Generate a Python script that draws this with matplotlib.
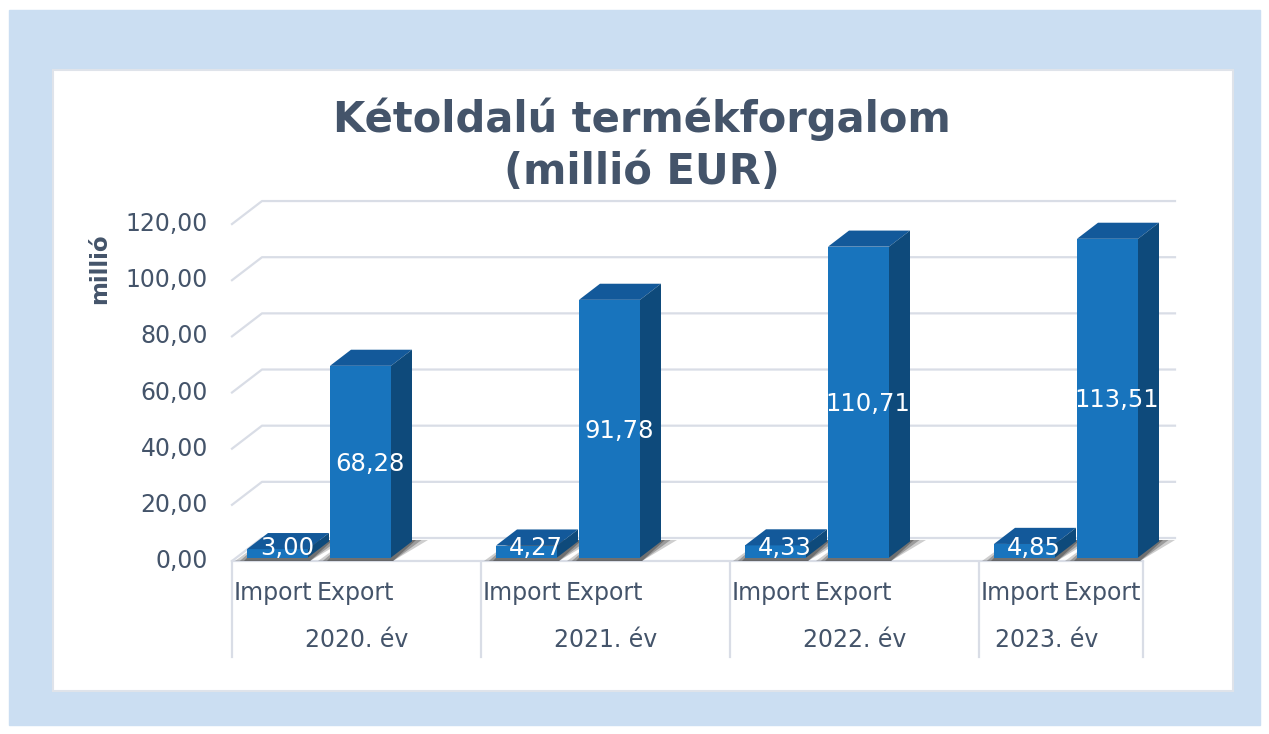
import matplotlib.pyplot as plt
from matplotlib.patches import Rectangle, Polygon

# data
years = ['2020. év', '2021. év', '2022. év', '2023. év']
series = ['Import', 'Export']
import_vals = [3.00, 4.27, 4.33, 4.85]
export_vals = [68.28, 91.78, 110.71, 113.51]
yticks = [0, 20, 40, 60, 80, 100, 120]

TXT = '#44546a'
GRID = '#d9dde6'
FRONT, TOP, SIDE = '#1874bd', '#13599a', '#0e4a7b'

W, H = 1269, 734
fig = plt.figure(figsize=(W / 100, H / 100), dpi=100)
ax = fig.add_axes([0, 0, 1, 1])

# layout (pixels): x axis in px, y axis in millions
PX = 2.808          # px per million
Y0 = 561            # pixel row of 0 on the front plane
X0 = 232            # left edge of the front plane
X_END = 1143        # right edge of the front plane
GW = 249            # width of one year group
DX, DY = 30, 23 / PX   # depth of the floor / back wall
ax.set_xlim(0, W)
ax.set_ylim((Y0 - H) / PX, Y0 / PX)
ax.axis('off')


def vy(py):
    return (Y0 - py) / PX


# backgrounds
ax.add_patch(Rectangle((9, vy(725)), 1251, 715 / PX, color='#cbdef2', zorder=0))
ax.add_patch(Rectangle((53, vy(691)), 1180, 621 / PX, facecolor='white',
                       edgecolor='#dfe3ea', lw=1.5, zorder=0))

# back wall gridlines
for v in yticks:
    ax.plot([X0, X0 + DX, X_END + DX + 2], [v, v + DY, v + DY], color=GRID, lw=1.6, zorder=1)
    ax.text(208, v, f'{v:.2f}'.replace('.', ','), ha='right', va='center',
            fontsize=17, color=TXT)
ax.plot([X0, X_END], [0, 0], color=GRID, lw=1.6, zorder=1)

# category separators
seps = [X0 + i * GW for i in range(len(years))] + [X_END]
for sx in seps:
    ax.plot([sx, sx], [vy(562), vy(657)], color=GRID, lw=1.6, zorder=1)

# bars
BAR_W = 61
OFFS = [15, 98]
vb = 0.15 * DY
BDX, BDY = 0.7 * DX, 0.7 * DY

for i, year in enumerate(years):
    g0 = X0 + i * GW
    for j, vals in enumerate([import_vals, export_vals]):
        h = vals[i]
        xl = g0 + OFFS[j]
        xr = xl + BAR_W
        # soft floor shadow, a few layers
        for grow, a in [(1.0, 0.25), (0.6, 0.35), (0.25, 0.45)]:
            ax.add_patch(Polygon([(xl - 12 * grow, vy(561)), (xr + 2, vy(561)),
                                  (xr + BDX + 16 * grow, vy(540)), (xl + BDX - 4, vy(540))],
                                 closed=True, facecolor='#3c3c3c', edgecolor='none',
                                 alpha=a, zorder=2))
        ax.add_patch(Polygon([(xl, vb), (xr, vb), (xr, vb + h), (xl, vb + h)],
                             closed=True, facecolor=FRONT, edgecolor='none', zorder=3))
        ax.add_patch(Polygon([(xl, vb + h), (xr, vb + h), (xr + BDX, vb + h + BDY),
                              (xl + BDX, vb + h + BDY)],
                             closed=True, facecolor=TOP, edgecolor='none', zorder=3))
        ax.add_patch(Polygon([(xr, vb), (xr + BDX, vb + BDY), (xr + BDX, vb + h + BDY),
                              (xr, vb + h)],
                             closed=True, facecolor=SIDE, edgecolor='none', zorder=3))
        ly = vb + max(h / 2 - 2 / PX, 10 / PX)
        ax.text((xl + xr + BDX) / 2 - 1, ly, f'{h:.2f}'.replace('.', ','),
                ha='center', va='center', fontsize=17.5, color='white', zorder=4)
        ax.text(xl + BAR_W / 2 - 5, vy(593), series[j], ha='center', va='center',
                fontsize=17, color=TXT)
    yc = min(g0 + GW / 2, X_END - 96)
    ax.text(yc, vy(640), year, ha='center', va='center', fontsize=17, color=TXT)

ax.text(642, vy(145), 'Kétoldalú termékforgalom\n(millió EUR)', ha='center',
        va='center', fontsize=30, fontweight='bold', color=TXT, linespacing=1.3)
ax.text(100, vy(269), 'millió', rotation=90, ha='center', va='center',
        fontsize=16.5, fontweight='bold', color=TXT)

fig.savefig('out.png', dpi=100)
